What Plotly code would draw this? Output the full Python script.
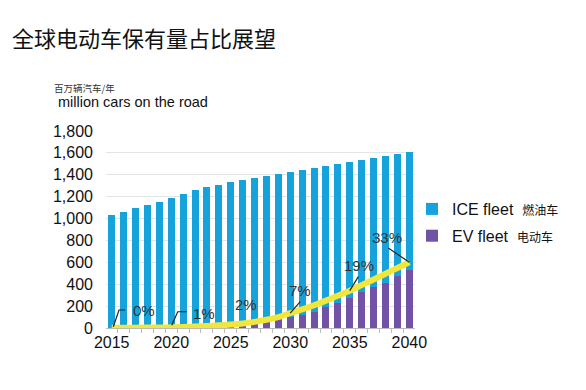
import plotly.graph_objects as go

years = list(range(2015, 2041))
total_fleet = [1033, 1063, 1094, 1124, 1155, 1188, 1225, 1259, 1286, 1310, 1332, 1353, 1371,
               1392, 1411, 1429, 1447, 1466, 1484, 1502, 1520, 1536, 1557, 1575, 1594, 1612]
ev_fleet = [1, 2, 3, 4, 6, 8, 11, 14, 18, 23, 29, 36, 44, 57, 73, 98, 119, 149, 189, 232,
            277, 332, 378, 415, 475, 530]
ice_fleet = [t - e for t, e in zip(total_fleet, ev_fleet)]
share_line = [2, 3, 3, 4, 5, 6, 9, 13, 18, 24, 31, 42, 56, 75, 100, 135, 170, 208, 250, 295,
              341, 392, 443, 495, 548, 600]
label_years = [2015, 2020, 2025, 2030, 2035, 2040]
label_texts = ["0%", "1%", "2%", "7%", "19%", "33%"]
x_ticks = [2015, 2020, 2025, 2030, 2035, 2040]
y_ticks = [0, 200, 400, 600, 800, 1000, 1200, 1400, 1600, 1800]

# style offsets (pixels) for labels and leaders
label_shift = [(32, 17), (33, 14), (15, 20), (10, 23), (9, 25), (-22, 25)]
leader_paths = ["M1.6,1 L7.3,17.8 L13.3,17.8",
                "M0.5,2 L6.5,15.6 L15.5,15.6",
                None,
                "M0,0 L10,11.5",
                "M0,0 L8.6,14",
                "M0,0 L-21,14.4"]

ICE_COLOR = "#16A3DC"
EV_COLOR = "#7252A4"
LINE_COLOR = "#F0E63C"
FONT = "Liberation Sans, Arial, sans-serif"
CJK = "Noto Sans CJK SC, sans-serif"

fig = go.Figure()
fig.add_trace(go.Bar(x=years, y=ev_fleet, marker_color=EV_COLOR, marker_line_width=0,
                     name="EV fleet  <span style='font-size:12px;font-family:Noto Sans CJK SC'>电动车</span>",
                     legendgroup="ev", legendrank=2))
fig.add_trace(go.Bar(x=years, y=ice_fleet, marker_color=ICE_COLOR, marker_line_width=0,
                     name="ICE fleet  <span style='font-size:12px;font-family:Noto Sans CJK SC'>燃油车</span>",
                     legendgroup="ice", legendrank=1))
fig.add_trace(go.Scatter(x=years, y=share_line, mode="lines", line=dict(color=LINE_COLOR, width=6,
                         shape="spline"), showlegend=False, hoverinfo="skip"))

val = dict(zip(years, share_line))
for yr, txt, (dx, dy), p in zip(label_years, label_texts, label_shift, leader_paths):
    fig.add_annotation(x=yr, y=val[yr], xref="x", yref="y", text=txt, showarrow=False,
                       xshift=dx, yshift=dy, font=dict(family=FONT, size=15, color="#333333"))
    if p:
        fig.add_shape(type="path", xref="x", yref="y", xsizemode="pixel", ysizemode="pixel",
                      xanchor=yr, yanchor=val[yr], path=p,
                      line=dict(color="#222222", width=1.2))

L, R, T, B = 106, 171, 131, 62
W, H = 586, 390
pw, ph = W - L - R, H - T - B


def px(x):
    return (x - L) / pw


def py(y):
    return (H - B - y) / ph


fig.add_annotation(x=px(10), y=py(37), xref="paper", yref="paper", text="全球电动车保有量占比展望",
                   showarrow=False, xanchor="left", yanchor="middle",
                   font=dict(family=CJK, size=22, color="#111111"))
fig.add_annotation(x=px(52), y=py(88), xref="paper", yref="paper", text="百万辆汽车/年",
                   showarrow=False, xanchor="left", yanchor="middle",
                   font=dict(family=CJK, size=9.5, color="#333333"))
fig.add_annotation(x=px(56), y=py(102), xref="paper", yref="paper", text="million cars on the road",
                   showarrow=False, xanchor="left", yanchor="middle",
                   font=dict(family=FONT, size=14.5, color="#111111"))

fig.update_layout(
    width=W, height=H, margin=dict(l=L, r=R, t=T, b=B, autoexpand=False),
    paper_bgcolor="white", plot_bgcolor="white",
    barmode="stack", bargap=0.41,
    font=dict(family=FONT, color="#111111"),
    legend=dict(x=px(412), y=py(192), xanchor="left", yanchor="top",
                traceorder="grouped", tracegroupgap=3,
                font=dict(family=FONT, size=16, color="#111111"),
                itemwidth=30, bgcolor="rgba(0,0,0,0)"),
    showlegend=True,
)
fig.update_xaxes(range=[2014.52, 2040.48], tickvals=x_ticks, ticks="", showgrid=False,
                 showline=True, linecolor="#BBBBBB", linewidth=1, automargin=False,
                 tickfont=dict(family=FONT, size=16, color="#111111"),
                 minor=dict(tick0=2014.5, dtick=1, ticks="outside", ticklen=4, tickcolor="#BBBBBB",
                            showgrid=False),
                 zeroline=False)
fig.update_yaxes(range=[0, 1800], tickvals=y_ticks, tickformat=",", showgrid=True,
                 gridcolor="#E4E4E4", gridwidth=1, zeroline=False, showline=False,
                 ticks="", ticklabelstandoff=12, automargin=False,
                 tickfont=dict(family=FONT, size=16, color="#111111"))

fig.write_html("out.html", config={"displayModeBar": False},
               post_script="document.body.style.margin='0';document.body.style.padding='0';"
                           "document.documentElement.style.overflow='hidden';")
